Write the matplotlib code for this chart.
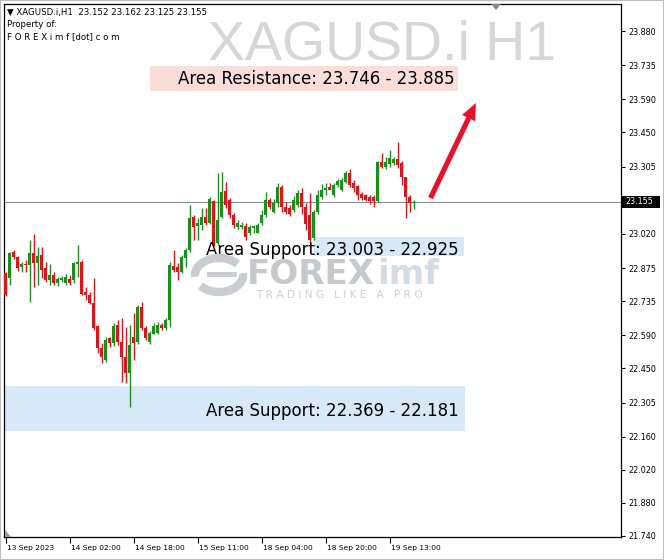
import matplotlib
matplotlib.use('Agg')
import matplotlib.pyplot as plt
import matplotlib.transforms as mtransforms
from matplotlib.patches import Rectangle, Arc, Polygon

# ---------------- data ----------------
opens = [22.854, 22.833, 22.943, 22.922, 22.879, 22.892, 22.888, 22.939, 22.896, 22.930,
         22.875, 22.824, 22.846, 22.812, 22.824, 22.812, 22.829, 22.824, 22.892, 22.901,
         22.773, 22.761, 22.727, 22.629, 22.536, 22.485, 22.578, 22.557, 22.634, 22.562,
         22.498, 22.430, 22.583, 22.562, 22.710, 22.621, 22.562, 22.595, 22.600, 22.634,
         22.621, 22.655, 22.884, 22.879, 22.858, 22.918, 22.951, 23.091, 23.053, 23.057,
         23.091, 23.066, 23.159, 22.981, 23.091, 23.202, 23.163, 23.100, 23.049, 23.049,
         23.053, 23.024, 23.045, 23.024, 23.066, 23.100, 23.163, 23.113, 23.151, 23.219,
         23.134, 23.130, 23.121, 23.142, 23.193, 23.134, 23.100, 23.002, 23.113, 23.176,
         23.206, 23.219, 23.185, 23.227, 23.206, 23.240, 23.278, 23.236, 23.223, 23.189,
         23.185, 23.176, 23.176, 23.159, 23.325, 23.303, 23.316, 23.320, 23.337, 23.320,
         23.261, 23.176, 23.152]
highs = [22.858, 22.943, 22.951, 22.926, 22.901, 22.909, 22.994, 23.019, 22.964, 22.964,
         22.901, 22.892, 22.858, 22.837, 22.841, 22.850, 22.846, 22.901, 22.973, 22.909,
         22.795, 22.773, 22.833, 22.634, 22.557, 22.583, 22.583, 22.642, 22.655, 22.663,
         22.625, 22.634, 22.684, 22.718, 22.731, 22.629, 22.608, 22.642, 22.646, 22.642,
         22.663, 22.901, 22.951, 22.896, 22.930, 22.960, 23.142, 23.100, 23.087, 23.130,
         23.130, 23.176, 23.163, 23.278, 23.282, 23.240, 23.172, 23.108, 23.079, 23.070,
         23.066, 23.057, 23.057, 23.066, 23.121, 23.197, 23.172, 23.168, 23.236, 23.227,
         23.155, 23.142, 23.180, 23.206, 23.214, 23.151, 23.193, 23.121, 23.206, 23.231,
         23.236, 23.236, 23.236, 23.253, 23.257, 23.286, 23.295, 23.248, 23.227, 23.197,
         23.189, 23.185, 23.185, 23.329, 23.363, 23.346, 23.375, 23.346, 23.409, 23.329,
         23.261, 23.185, 23.162]
lows = [22.756, 22.803, 22.913, 22.862, 22.858, 22.858, 22.731, 22.795, 22.803, 22.833,
        22.816, 22.803, 22.803, 22.799, 22.816, 22.803, 22.803, 22.812, 22.837, 22.761,
        22.740, 22.723, 22.612, 22.515, 22.472, 22.477, 22.540, 22.545, 22.549, 22.392,
        22.388, 22.286, 22.485, 22.553, 22.612, 22.570, 22.553, 22.595, 22.595, 22.612,
        22.612, 22.625, 22.858, 22.824, 22.854, 22.879, 22.943, 22.994, 22.994, 23.036,
        23.057, 23.062, 22.968, 22.973, 23.087, 23.130, 23.087, 23.045, 23.040, 23.040,
        22.994, 23.015, 23.024, 23.024, 23.057, 23.091, 23.125, 23.108, 23.134, 23.113,
        23.104, 23.096, 23.113, 23.134, 23.104, 23.036, 22.981, 22.994, 23.104, 23.168,
        23.185, 23.210, 23.176, 23.219, 23.202, 23.236, 23.219, 23.197, 23.163, 23.163,
        23.159, 23.147, 23.134, 23.155, 23.299, 23.295, 23.303, 23.312, 23.299, 23.227,
        23.087, 23.113, 23.125]
closes = [22.761, 22.939, 22.922, 22.875, 22.892, 22.888, 22.939, 22.896, 22.926, 22.867,
          22.824, 22.846, 22.812, 22.829, 22.833, 22.837, 22.812, 22.896, 22.901, 22.765,
          22.761, 22.727, 22.621, 22.536, 22.498, 22.570, 22.557, 22.629, 22.562, 22.498,
          22.430, 22.549, 22.557, 22.710, 22.621, 22.578, 22.600, 22.629, 22.634, 22.621,
          22.655, 22.888, 22.867, 22.858, 22.922, 22.951, 23.087, 23.049, 23.066, 23.091,
          23.066, 23.168, 22.973, 23.079, 23.197, 23.142, 23.100, 23.057, 23.066, 23.057,
          23.007, 23.049, 23.053, 23.057, 23.100, 23.163, 23.134, 23.151, 23.219, 23.134,
          23.113, 23.104, 23.163, 23.193, 23.134, 23.062, 22.994, 23.113, 23.185, 23.206,
          23.214, 23.206, 23.227, 23.244, 23.248, 23.278, 23.227, 23.214, 23.185, 23.172,
          23.163, 23.159, 23.159, 23.325, 23.303, 23.325, 23.342, 23.337, 23.312, 23.261,
          23.176, 23.151, 23.155]

xtick_index = [0, 16, 32, 48, 64, 80, 96]
xtick_labels = ['13 Sep 2023', '14 Sep 02:00', '14 Sep 18:00', '15 Sep 11:00',
                '18 Sep 04:00', '18 Sep 20:00', '19 Sep 13:00']
ytick_values = [23.880, 23.735, 23.590, 23.450, 23.305, 23.020, 22.875, 22.735,
                22.590, 22.450, 22.305, 22.160, 22.020, 21.880, 21.740]
current_price = 23.155

zone_labels = ['Area Resistance: 23.746 - 23.885', 'Area Support: 23.003 - 22.925',
               'Area Support: 22.369 - 22.181']
zone_top = [23.732, 23.007, 22.375]
zone_bottom = [23.626, 22.926, 22.184]
zone_start = [36.0, 77.0, -0.4]
zone_end = [113.0, 114.5, 114.75]
zone_text_x = [43.0, 50.0, 50.2]
zone_text_base = [23.655, 22.930, 22.248]
zone_colors = ['#fbdeda', '#d7e8f8', '#d7e8f8']

arrow_start = (106.25, 23.172)
arrow_end = (117.6, 23.575)

symbol = 'XAGUSD.i'
timeframe = 'H1'
header_ohlc = ['23.152', '23.162', '23.125', '23.155']

# ---------------- figure ----------------
W, H = 664, 560
fig = plt.figure(figsize=(W / 100, H / 100), dpi=100)
fig.patch.set_facecolor('white')


def fx(px):
    return px / W


def fy(py):
    return 1 - py / H


ax = fig.add_axes([fx(4), fy(537), fx(621) - fx(4), fy(4) - fy(537)])
ax.set_facecolor('white')
ax.set_xlim(-0.375, 153.875)
ax.set_ylim(21.735, 23.9945)

# watermark logo (background)
logo_col = '#c9ccd3'
fig.patches.append(Arc((fx(219), fy(275)), fx(48), 34 / H, theta1=35, theta2=185,
                       lw=6, color=logo_col, transform=fig.transFigure, zorder=0.5))
fig.patches.append(Arc((fx(219), fy(275)), fx(48), 34 / H, theta1=215, theta2=365,
                       lw=6, color=logo_col, transform=fig.transFigure, zorder=0.5))
fig.patches.append(Rectangle((fx(207), fy(277)), fx(30), 5 / H, color=logo_col,
                             transform=fig.transFigure, zorder=0.5, lw=0))
ax.text(fx(247), fy(284), 'FOREX', transform=fig.transFigure, fontsize=24.5,
        fontweight='bold', color='#c5c8cf', family='DejaVu Sans', zorder=0.6,
        ha='left', va='baseline')
ax.text(fx(377), fy(284), 'imf', transform=fig.transFigure, fontsize=24.5,
        fontweight='bold', color='#d3dbe6', family='DejaVu Sans', zorder=0.6,
        ha='left', va='baseline')
ax.text(fx(256), fy(298), 'T R A D I N G   L I K E   A   P R O', transform=fig.transFigure,
        fontsize=7.6, color='#cfcfcf', family='DejaVu Sans', zorder=0.6,
        ha='left', va='baseline')

# zones
for lab, top, bot, x0, x1, tx, tb, col in zip(zone_labels, zone_top, zone_bottom, zone_start,
                                               zone_end, zone_text_x, zone_text_base, zone_colors):
    ax.add_patch(Rectangle((x0, bot), x1 - x0, top - bot, facecolor=col, edgecolor='none', zorder=0.4))
    ax.text(tx, tb, lab, fontsize=12, family='DejaVu Sans', color='black',
            ha='left', va='baseline', zorder=5)

# current price line
ax.axhline(current_price, color='#8a8a8a', lw=0.8, zorder=1)

# candles
xs = list(range(len(opens)))
bull = '#1e8c1e'
bear = '#d8161c'
cols = [bull if c >= o else bear for o, c in zip(opens, closes)]
ax.vlines(xs, lows, highs, colors=cols, lw=1.0, zorder=3)
bottoms = [min(o, c) for o, c in zip(opens, closes)]
heights = [max(abs(c - o), 0.003) for o, c in zip(opens, closes)]
ax.bar(xs, heights, bottom=bottoms, width=0.7, color=cols, lw=0, zorder=3.1)

# arrow
ax.annotate('', xy=arrow_end, xytext=arrow_start,
            arrowprops=dict(arrowstyle='simple,head_length=1.1,head_width=0.95,tail_width=0.34',
                            mutation_scale=11, color='#e8112d', lw=0, shrinkA=0, shrinkB=0),
            zorder=6)

# big watermark title
fig.text(fx(556), fy(60), f'{symbol} {timeframe}', fontsize=40, family='Liberation Sans',
         color='#d6d6d6', ha='right', va='baseline', zorder=0.3)

# header texts
fig.text(fx(7), fy(15), '\u25bc ' + f'{symbol},{timeframe}  ' + ' '.join(header_ohlc),
         fontsize=6.2, family='DejaVu Sans', color='black', ha='left', va='baseline')
fig.text(fx(7), fy(27), 'Property of:', fontsize=6.2, family='DejaVu Sans', color='black',
         ha='left', va='baseline')
fig.text(fx(7), fy(39), 'F O R E X i m f [dot] c o m', fontsize=6.2, family='DejaVu Sans',
         color='black', ha='left', va='baseline')

# axes styling
for s in ax.spines.values():
    s.set_color('black')
    s.set_linewidth(0.9)
ax.yaxis.tick_right()
ax.set_yticks(ytick_values)
ax.set_yticklabels([f'{v:.3f}' for v in ytick_values])
ax.tick_params(axis='y', direction='out', length=3, width=0.8, pad=2, labelsize=5.8,
               colors='black')
ax.set_xticks(xtick_index)
ax.set_xticklabels(xtick_labels)
ax.tick_params(axis='x', direction='out', length=4, width=0.8, pad=2, labelsize=5.4,
               colors='black')
offset = mtransforms.ScaledTranslation(1.5 / 100, 0, fig.dpi_scale_trans)
for lab in ax.get_xticklabels():
    lab.set_horizontalalignment('left')
    lab.set_transform(lab.get_transform() + offset)
for lab in ax.get_xticklabels() + ax.get_yticklabels():
    lab.set_family('DejaVu Sans')

# current price label box
fig.patches.append(Rectangle((fx(622), fy(208)), fx(38), 12 / H, facecolor='black',
                             edgecolor='none', transform=fig.transFigure, zorder=5))
fig.text(fx(625), fy(202), f'{current_price:.3f}', fontsize=5.8, family='DejaVu Sans',
         color='white', ha='left', va='center', zorder=6)

# small markers
fig.patches.append(Polygon([(fx(491), fy(4)), (fx(501), fy(4)), (fx(496), fy(10))],
                           closed=True, facecolor='#8a8a8a', edgecolor='none',
                           transform=fig.transFigure, zorder=5))
fig.patches.append(Polygon([(fx(5), fy(537)), (fx(5), fy(530)), (fx(11), fy(537))],
                           closed=True, facecolor='#9a9a9a', edgecolor='none',
                           transform=fig.transFigure, zorder=5))
# window border
fig.patches.append(Rectangle((0, 0), 1, 1, facecolor='none', edgecolor='#bdbdbd', lw=1.5,
                             transform=fig.transFigure, zorder=7))

fig.savefig('out.png', dpi=100)
